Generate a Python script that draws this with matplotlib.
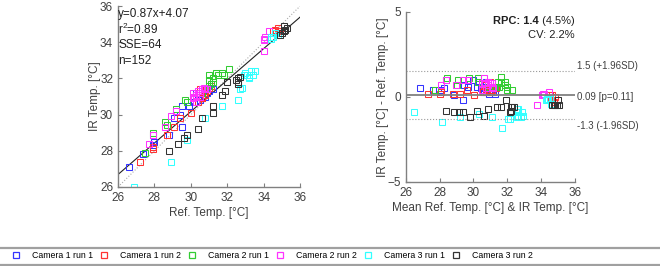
import matplotlib.pyplot as plt
from matplotlib.lines import Line2D

plt.rcParams["font.family"] = ["Liberation Sans", "DejaVu Sans"]
plt.rcParams["mathtext.default"] = "regular"

labels = ["Camera 1 run 1", "Camera 1 run 2", "Camera 2 run 1",
          "Camera 2 run 2", "Camera 3 run 1", "Camera 3 run 2"]
colors = ["#3333ff", "#ff3333", "#33cc33", "#ff33ff", "#33ffff", "#333333"]

# reference temp / IR temp per series
ref_c1r1 = [26.6, 27.4, 28.0, 27.9, 28.8, 29.5, 29.4, 29.5, 29.9, 30.2,
            30.4, 30.6, 30.8, 30.9, 31.0, 30.3, 30.7, 31.2, 30.5, 29.1]
ir_c1r1 = [27.1, 27.8, 28.5, 28.3, 28.9, 29.3, 30.0, 30.5, 30.5, 30.7,
           31.0, 30.9, 31.0, 31.2, 31.3, 31.2, 31.1, 31.4, 30.8, 29.8]
ref_c1r2 = [27.2, 27.9, 27.9, 28.7, 29.1, 29.4, 30.0, 30.4, 30.6, 30.8, 30.9,
            30.5, 30.7, 31.0, 30.3, 34.6, 34.8, 34.9, 34.7, 34.5, 31.1, 30.6]
ir_c1r2 = [27.4, 28.1, 28.2, 28.9, 29.3, 29.8, 30.1, 30.7, 31.0, 31.1, 31.3,
           31.4, 31.2, 31.5, 31.0, 34.7, 34.8, 34.6, 34.5, 34.6, 31.6, 30.9]
ref_c2r1 = [27.5, 27.9, 27.9, 28.6, 28.7, 29.2, 29.7, 29.8, 30.2, 30.6, 30.9,
            31.0, 31.0, 31.1, 31.2, 31.4, 31.5, 31.7, 31.8, 32.1, 31.0, 31.2]
ir_c2r1 = [27.9, 28.9, 29.0, 29.6, 29.4, 30.3, 30.8, 30.7, 31.0, 31.2, 31.5,
           32.2, 31.9, 31.7, 31.8, 32.3, 32.2, 32.3, 32.2, 32.5, 31.6, 32.0]
ref_c2r2 = [27.7, 27.9, 28.6, 28.9, 29.2, 30.1, 30.2, 30.3, 30.4, 30.5, 30.6,
            30.7, 30.5, 30.8, 30.1, 30.3, 34.0, 34.0, 34.0, 34.3, 34.1, 30.9]
ir_c2r2 = [28.4, 28.9, 29.3, 29.9, 30.2, 31.2, 31.0, 31.1, 31.3, 31.2, 31.4,
           31.5, 31.0, 31.4, 30.9, 30.7, 34.2, 34.1, 33.5, 34.6, 34.3, 31.4]
ref_c3r1 = [26.9, 28.9, 29.8, 30.8, 31.7, 32.6, 32.7, 32.8, 32.9, 33.0, 33.1,
            33.2, 33.3, 33.4, 33.5, 33.2, 34.4, 34.5, 34.8, 34.6, 34.4]
ir_c3r1 = [26.0, 27.4, 28.6, 29.8, 30.5, 30.8, 31.4, 31.5, 32.2, 32.3, 32.2,
           32.0, 32.4, 32.2, 32.4, 32.1, 34.2, 34.3, 34.4, 34.5, 34.3]
ref_c3r2 = [28.8, 29.3, 29.6, 29.8, 30.4, 30.6, 31.2, 31.2, 31.7, 31.9, 32.0,
            32.5, 32.6, 32.6, 32.7, 32.6, 35.0, 35.1, 35.2, 35.3, 35.1, 34.9]
ir_c3r2 = [28.0, 28.4, 28.7, 28.9, 29.2, 29.8, 30.1, 30.5, 31.1, 31.3, 31.8,
           31.9, 31.8, 32.0, 32.1, 31.7, 34.5, 34.9, 34.7, 34.8, 34.6, 34.4]

ref_series = [ref_c1r1, ref_c1r2, ref_c2r1, ref_c2r2, ref_c3r1, ref_c3r2]
ir_series = [ir_c1r1, ir_c1r2, ir_c2r1, ir_c2r2, ir_c3r1, ir_c3r2]

slope, intercept = 0.87, 4.07
mean_diff, upper_loa, lower_loa = 0.09, 1.5, -1.3

fig = plt.figure(figsize=(6.6, 2.66), dpi=100)
ax1 = fig.add_axes([0.1788, 0.297, 0.2758, 0.680])
ax2 = fig.add_axes([0.615, 0.316, 0.256, 0.639])

axcol = "#808080"
txtcol = "#404040"
for ax in (ax1, ax2):
    for s in ("top", "right"):
        ax.spines[s].set_visible(False)
    for s in ("left", "bottom"):
        ax.spines[s].set_color(axcol)
        ax.spines[s].set_linewidth(1.0)
    ax.tick_params(direction="in", length=3, color=axcol, labelcolor=txtcol,
                   labelsize=8.5, width=0.8)

ms = 4.5
# --- correlation plot ---
ax1.plot([26, 36], [26, 36], ls=":", color="#aaaaaa", lw=0.8)
ax1.plot([26, 36], [slope * 26 + intercept, slope * 36 + intercept],
         color="#222222", lw=0.8)
for r, i, c in zip(ref_series, ir_series, colors):
    ax1.plot(r, i, ls="none", marker="s", ms=ms, mfc="none", mec=c, mew=0.75)
ax1.set_xlim(26, 36)
ax1.set_ylim(26, 36)
ax1.set_xticks(range(26, 37, 2))
ax1.set_yticks(range(26, 37, 2))
ax1.set_xlabel("Ref. Temp. [°C]", fontsize=8.5, color=txtcol, labelpad=2)
ax1.set_ylabel("IR Temp. [°C]", fontsize=8.5, color=txtcol, labelpad=-1)
stats_txt = ["y=0.87x+4.07", "r$^2$=0.89", "SSE=64", "n=152"]
for k, t in enumerate(stats_txt):
    ax1.text(26.0, 35.56 - k * 0.86, t, fontsize=8.5, color="#202020",
             va="center", ha="left")

# --- Bland-Altman plot ---
for r, i, c in zip(ref_series, ir_series, colors):
    means = [(a + b) / 2 for a, b in zip(r, i)]
    diffs = [b - a for a, b in zip(r, i)]
    ax2.plot(means, diffs, ls="none", marker="s", ms=ms, mfc="none", mec=c,
             mew=0.75)
ax2.axhline(mean_diff, color="#808080", lw=1.3)
ax2.axhline(upper_loa, color="#999999", lw=0.8, ls=":")
ax2.axhline(lower_loa, color="#999999", lw=0.8, ls=":")
ax2.set_xlim(26, 36)
ax2.set_ylim(-5, 5)
ax2.set_xticks(range(26, 37, 2))
ax2.set_yticks([-5, 0, 5])
ax2.set_xlabel("Mean Ref. Temp. [°C] & IR Temp. [°C]", fontsize=8.5,
               color=txtcol, labelpad=2)
ax2.set_ylabel("IR Temp. [°C] - Ref. Temp. [°C]", fontsize=8.5, color=txtcol,
               labelpad=-1)
ax2.text(36.1, upper_loa + 0.05, "1.5 (+1.96SD)", fontsize=7, color=txtcol,
         va="bottom", ha="left", clip_on=False)
ax2.text(36.1, mean_diff - 0.1, "0.09 [p=0.11]", fontsize=7, color=txtcol,
         va="center", ha="left", clip_on=False)
ax2.text(36.1, lower_loa - 0.1, "-1.3 (-1.96SD)", fontsize=7, color=txtcol,
         va="top", ha="left", clip_on=False)
t_pct = ax2.text(36, 4.47, " (4.5%)", fontsize=8, color="#202020",
                 ha="right", va="center")
ax2.annotate("RPC: 1.4", xy=(0, 0.5), xycoords=t_pct, fontsize=8,
             fontweight="bold", color="#202020", ha="right", va="center")
ax2.text(36, 3.67, "CV: 2.2%", fontsize=8, color="#202020", ha="right",
         va="center")

# --- legend strip ---
handles = [Line2D([], [], ls="none", marker="s", ms=4, mfc="none", mec=c,
                  mew=0.9) for c in colors]
fig.legend(handles, labels, loc="center left", ncol=6,
           bbox_to_anchor=(11.5 / 660, (266 - 256) / 266), frameon=False,
           fontsize=6.3, handlelength=1.0, handletextpad=1.33,
           columnspacing=0.76, borderaxespad=0, borderpad=0)
for ypx in (248, 264.5):
    fig.add_artist(Line2D([0, 1], [(266 - ypx) / 266] * 2, color="#a0a0a0",
                          lw=1.6, transform=fig.transFigure))

fig.savefig("out.png", dpi=100)
